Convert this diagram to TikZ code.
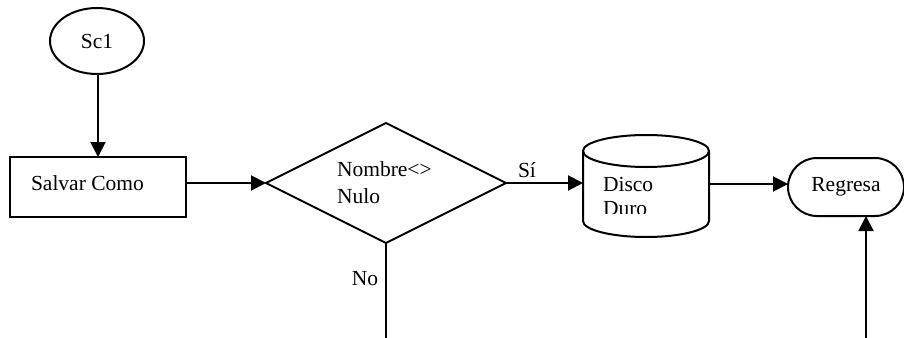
\documentclass[tikz,border=0pt]{standalone}
\usepackage{fontspec}
\setmainfont{Liberation Serif}
\usetikzlibrary{shapes.geometric,shapes.misc,arrows.meta}
\begin{document}
\begin{tikzpicture}[x=1pt,y=-1pt,
  every node/.style={font=\fontsize{21.5}{24}\selectfont, inner sep=0pt, outer sep=0pt},
  ln/.style={line width=2pt},
  arr/.style={ln,-{Triangle[length=15pt,width=15pt]}},
  txt/.style={align=left, anchor=west}]
\useasboundingbox (0,0) rectangle (904,337);
% shapes
\node[ellipse, draw, ln, minimum width=94pt, minimum height=66pt] (sc1) at (97,41) {Sc1};
\node[rectangle, draw, ln, minimum width=176pt, minimum height=60pt] (salvar) at (98,187) {};
\node[txt] (salvart) at (31,183) {Salvar Como};
\node[diamond, draw, ln, minimum width=240pt, minimum height=120pt] (dec) at (386,183) {};
\node[txt, font=\fontsize{21.5}{27}\selectfont] (dect) at (337,183) {Nombre<>\\Nulo};
\node[rectangle, minimum width=126pt, minimum height=102pt] (disco) at (646,186) {};
\draw[ln] (disco.west |- 0,151) -- (disco.west |- 0,221)
  arc[start angle=180, end angle=360, x radius=63pt, y radius=16pt]
  -- (disco.east |- 0,151);
\draw[ln] (646,151) ellipse[x radius=63pt, y radius=16pt];
\begin{scope}
\clip (583,165) rectangle (708,213.5);
\node[txt, font=\fontsize{21.5}{24}\selectfont] (discot) at (603,196) {Disco\\Duro};
\end{scope}
\node[rounded rectangle, draw, ln, minimum width=116pt, minimum height=58pt] (reg) at (846,187) {Regresa};
% labels
\node (si) at (527,170) {Sí};
\node (no) at (365,279) {No};
% connectors
\coordinate (nobot) at (386,340);
\coordinate (upbot) at (866,340);
\draw[arr] (salvar.north |- sc1.south) -- (salvar.north);
\draw[arr] (salvar.east |- dec.west) -- (dec.west);
\draw[arr] (dec.east) -- (dec.east -| disco.west);
\draw[arr] (disco.east |- 0,184) -- (reg.west |- 0,184);
\draw[ln] (dec.south) -- (nobot);
\draw[arr] (upbot) -- (upbot |- reg.south);
\end{tikzpicture}
\end{document}
